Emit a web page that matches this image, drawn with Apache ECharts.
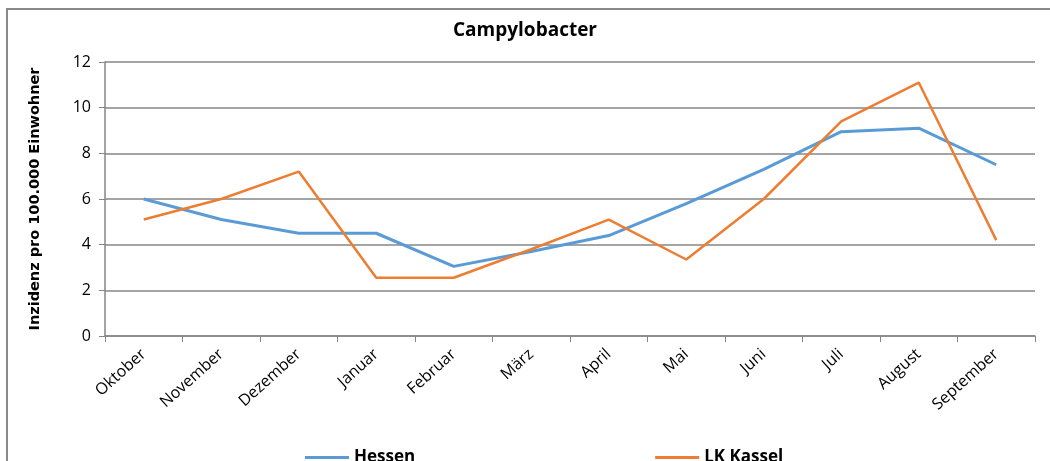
<!DOCTYPE html>
<html>
<head>
<meta charset="utf-8">
<script src="https://cdn.jsdelivr.net/npm/echarts@6/dist/echarts.min.js"></script>
<style>
  html, body { margin: 0; padding: 0; background: #fff; }
  #wrap { position: relative; width: 1050px; height: 461px; overflow: hidden; }
  #frame { position: absolute; left: 6px; top: 8px; width: 1100px; height: 500px;
           border-left: 2px solid #8a8a8a; border-top: 2px solid #8a8a8a; }
  #chart { position: absolute; left: 0; top: 0; width: 1050px; height: 461px; }
</style>
</head>
<body>
<div id="wrap">
  <div id="frame"></div>
  <div id="chart"></div>
</div>
<script>
const months = ['Oktober', 'November', 'Dezember', 'Januar', 'Februar', 'März', 'April', 'Mai', 'Juni', 'Juli', 'August', 'September'];
const hessen = [6.0, 5.1, 4.5, 4.5, 3.05, 3.7, 4.4, 5.8, 7.3, 8.95, 9.1, 7.5];
const kassel = [5.1, 6.0, 7.2, 2.55, 2.55, 3.8, 5.1, 3.35, 6.0, 9.4, 11.1, 4.2];

let myChart = echarts.init(document.getElementById('chart'));
myChart.setOption({
  animation: false,
  title: {
    text: 'Campylobacter',
    left: 'center',
    top: 16,
    textStyle: { fontFamily: 'Open Sans', fontWeight: 'bold', fontSize: 19, color: '#000' }
  },
  legend: {
    bottom: -10,
    left: 300,
    itemGap: 240,
    itemWidth: 44,
    itemHeight: 3,
    icon: 'rect',
    textStyle: { fontFamily: 'Open Sans', fontSize: 17, fontWeight: 'bold', color: '#000' },
    data: ['Hessen', 'LK Kassel']
  },
  grid: { left: 105, right: 15, top: 62, bottom: 125 },
  xAxis: {
    type: 'category',
    data: months,
    boundaryGap: true,
    axisLine: { lineStyle: { color: '#868686', width: 1.5 } },
    axisTick: { show: true, length: 6, lineStyle: { color: '#868686' } },
    axisLabel: { rotate: 42, fontFamily: 'Open Sans', fontSize: 16, color: '#000', margin: 16 }
  },
  yAxis: {
    type: 'value',
    min: 0,
    max: 12,
    interval: 2,
    name: 'Inzidenz pro 100.000 Einwohner',
    nameLocation: 'middle',
    nameGap: 62,
    nameTextStyle: { fontFamily: 'DejaVu Sans', fontWeight: 'bold', fontSize: 14.5, color: '#000' },
    axisLine: { show: true, lineStyle: { color: '#868686', width: 1.5 } },
    axisTick: { show: true, length: 6, lineStyle: { color: '#868686' } },
    axisLabel: { fontFamily: 'Open Sans', fontSize: 16, color: '#000', margin: 14 },
    splitLine: { lineStyle: { color: '#868686', width: 1.5 } }
  },
  series: [
    {
      name: 'Hessen',
      type: 'line',
      data: hessen,
      symbol: 'none',
      color: '#5B9BD5',
      lineStyle: { width: 3, color: '#5B9BD5' }
    },
    {
      name: 'LK Kassel',
      type: 'line',
      data: kassel,
      symbol: 'none',
      color: '#ED7D31',
      lineStyle: { width: 2.5, color: '#ED7D31' }
    }
  ]
});
</script>
</body>
</html>
